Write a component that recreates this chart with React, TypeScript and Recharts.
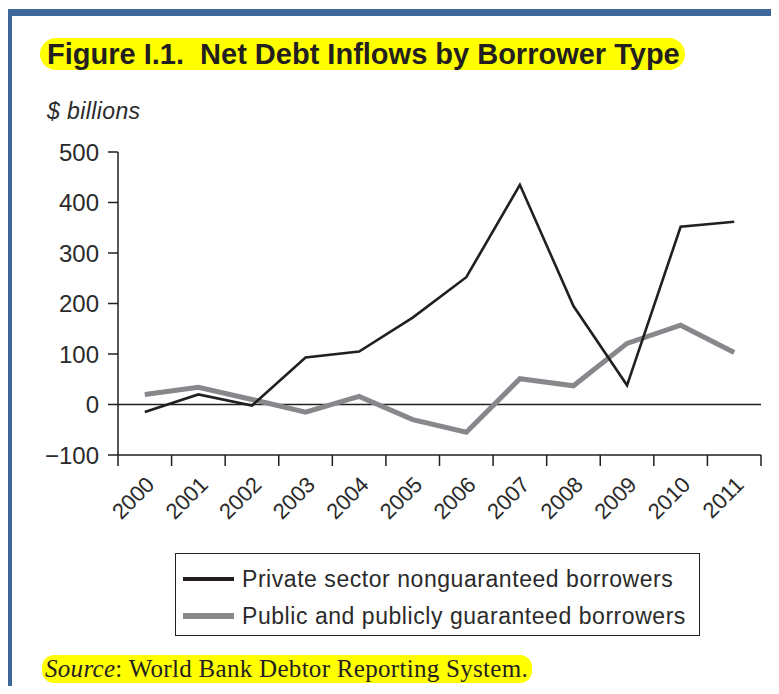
import { LineChart, Line, XAxis, YAxis, ReferenceLine } from 'recharts';

const years = ['2000', '2001', '2002', '2003', '2004', '2005', '2006', '2007', '2008', '2009', '2010', '2011'];
const privateSector = [-15, 20, -2, 93, 105, 172, 252, 435, 195, 38, 352, 362];
const publicGuaranteed = [20, 34, 10, -15, 16, -30, -55, 51, 37, 121, 157, 103];
const yTicks = [-100, 0, 100, 200, 300, 400, 500];
const seriesNames = ['Private sector nonguaranteed borrowers', 'Public and publicly guaranteed borrowers'];
const seriesKeys = ['private', 'public'];
const seriesColors = ['#231f20', '#87888b'];
const seriesWidths = [2.6, 5];

const data = years.map((year, i) => ({ year, private: privateSector[i], public: publicGuaranteed[i] }));

const ink = '#231f20';

function YearTick(props: any) {
  const { x, y, payload, index } = props;
  const half = payload.offset ?? 26.8;
  const tx = x + 11;
  const ty = y + 31;
  return (
    <g>
      <line x1={x - half} x2={x - half} y1={y} y2={y + 11} stroke={ink} strokeWidth={1.5} />
      {index === years.length - 1 && (
        <line x1={x + half} x2={x + half} y1={y} y2={y + 11} stroke={ink} strokeWidth={1.5} />
      )}
      <text x={tx} y={ty} transform={`rotate(-45 ${tx} ${ty})`} textAnchor="end" fontSize={22} fill="#2a2a2a" fontFamily="Liberation Sans, Arial, sans-serif">
        {payload.value}
      </text>
    </g>
  );
}

export default function App() {
  return (
    <div style={{ position: 'relative', width: 779, height: 694, margin: -8, background: '#fff', overflow: 'hidden', fontFamily: 'Liberation Sans, Arial, sans-serif', color: ink }}>
      {/* blue frame */}
      <div style={{ position: 'absolute', left: 6, top: 9, width: 773, height: 7, background: '#3d6798' }} />
      <div style={{ position: 'absolute', left: 6, top: 9, width: 6, height: 685, background: '#3d6798' }} />

      <div style={{ position: 'absolute', left: 40, top: 38, height: 32, lineHeight: '32px', padding: '0 5px 0 7px', background: '#ffff00', borderRadius: 16, fontSize: 29, fontWeight: 'bold', whiteSpace: 'nowrap' }}>
        Figure I.1.&nbsp; Net Debt Inflows by Borrower Type
      </div>
      <div style={{ position: 'absolute', left: 47, top: 100, fontSize: 23, lineHeight: '23px', fontStyle: 'italic', letterSpacing: 0.4, color: '#2a2a2a' }}>$ billions</div>

      <div style={{ position: 'absolute', left: 0, top: 0 }}>
        <LineChart width={779} height={535} data={data} margin={{ top: 152, right: 18, left: 0, bottom: 0 }}>
          <XAxis
            dataKey="year"
            scale="band"
            height={80}
            tickSize={0}
            tickMargin={0}
            tickLine={false}
            axisLine={{ stroke: ink, strokeWidth: 1.5 }}
            tick={<YearTick />}
            interval={0}
          />
          <YAxis
            width={118}
            domain={[-100, 500]}
            ticks={yTicks}
            tickSize={10}
            tickMargin={9}
            tickLine={{ stroke: ink, strokeWidth: 1.5 }}
            axisLine={{ stroke: ink, strokeWidth: 1.5 }}
            tick={{ fontSize: 24, fill: '#2a2a2a' }}
            tickFormatter={(v: number) => (v < 0 ? `\u2212${-v}` : `${v}`)}
          />
          <ReferenceLine y={0} stroke={ink} strokeWidth={1.5} />
          <Line type="linear" dataKey="public" stroke={seriesColors[1]} strokeWidth={seriesWidths[1]} dot={false} isAnimationActive={false} />
          <Line type="linear" dataKey="private" stroke={seriesColors[0]} strokeWidth={seriesWidths[0]} dot={false} isAnimationActive={false} />
        </LineChart>
      </div>

      {/* legend */}
      <div style={{ position: 'absolute', left: 175, top: 553, width: 523, height: 81, border: `1.5px solid ${ink}` }}>
        {seriesKeys.map((k, i) => (
          <div key={k} style={{ position: 'absolute', left: 7, top: i === 0 ? 11 : 48, height: 28, display: 'flex', alignItems: 'center', whiteSpace: 'nowrap' }}>
            <div style={{ width: 51, height: seriesWidths[i] + 0.5, background: seriesColors[i] }} />
            <span style={{ marginLeft: 8, fontSize: 23, letterSpacing: 0.55, color: '#2a2a2a' }}>{seriesNames[i]}</span>
          </div>
        ))}
      </div>

      <div style={{ position: 'absolute', left: 42, top: 655, height: 28, lineHeight: '28px', padding: '0 4px 0 3px', background: '#ffff00', borderRadius: 12, fontFamily: 'Liberation Serif, Times New Roman, serif', fontSize: 25, letterSpacing: 0.3, whiteSpace: 'nowrap' }}>
        <i>Source</i>: World Bank Debtor Reporting System.
      </div>
    </div>
  );
}
